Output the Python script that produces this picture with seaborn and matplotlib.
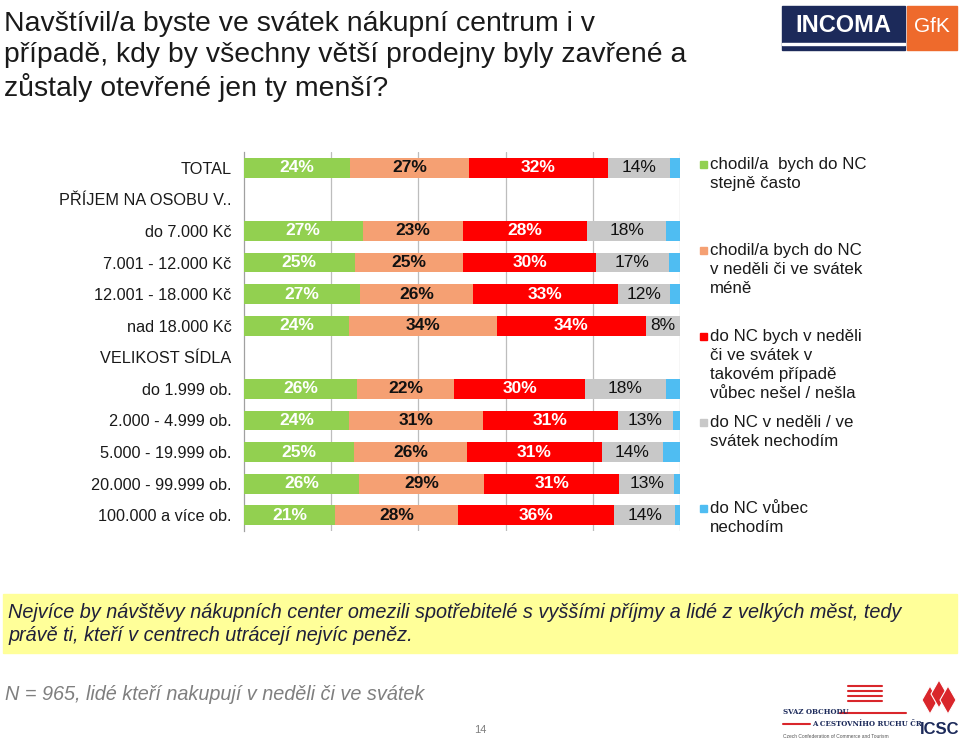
import numpy as np
import pandas as pd
import matplotlib
matplotlib.use("Agg")
import matplotlib.pyplot as plt
import seaborn as sns
from matplotlib.patches import Rectangle, Polygon
from matplotlib.lines import Line2D

# ---------------- data ----------------
categories = ["TOTAL", "PŘÍJEM NA OSOBU V..", "do 7.000 Kč", "7.001 - 12.000 Kč",
              "12.001 - 18.000 Kč", "nad 18.000 Kč", "VELIKOST SÍDLA", "do 1.999 ob.",
              "2.000 - 4.999 ob.", "5.000 - 19.999 ob.", "20.000 - 99.999 ob.",
              "100.000 a více ob."]
series_names = ["chodil/a  bych do NC\nstejně často",
                "chodil/a bych do NC\nv neděli či ve svátek\nméně",
                "do NC bych v neděli\nči ve svátek v\ntakovém případě\nvůbec nešel / nešla",
                "do NC v neděli / ve\nsvátek nechodím",
                "do NC vůbec\nnechodím"]
nan = np.nan
stejne_casto = [24.4, nan, 27.2, 25.4, 26.7, 24.1, nan, 26.0, 24.1, 25.3, 26.4, 20.9]
mene = [27.2, nan, 23.1, 24.9, 25.9, 33.9, nan, 22.1, 30.7, 25.8, 28.7, 28.2]
vubec_nesel = [31.9, nan, 28.4, 30.4, 33.1, 34.2, nan, 30.2, 31.0, 30.9, 31.0, 35.8]
nechodim_nedele = [14.3, nan, 18.1, 16.7, 11.9, 7.8, nan, 18.4, 12.6, 14.1, 12.6, 14.0]
nechodim_vubec = [2.2, nan, 3.2, 2.6, 2.4, 0.0, nan, 3.3, 1.6, 3.9, 1.3, 1.1]

colors = ["#92D050", "#F5A073", "#FF0000", "#C8C8C8", "#4FBDF2"]
label_colors = ["white", "#111111", "white", "#111111"]
label_weights = ["bold", "bold", "bold", "normal"]

series = [stejne_casto, mene, vubec_nesel, nechodim_nedele, nechodim_vubec]
df = pd.DataFrame({"cat": categories})
for i, s in enumerate(series):
    df[f"s{i}"] = s
df = df.dropna().reset_index(drop=True)
vals = df[[f"s{i}" for i in range(5)]].to_numpy()
cums = np.cumsum(vals, axis=1)
for i in range(5):
    df[f"c{i}"] = cums[:, i]

# ---------------- figure ----------------
sns.set_style("white")
plt.rcParams["font.family"] = ["Liberation Sans", "DejaVu Sans"]

W, H = 960, 744
fig = plt.figure(figsize=(W / 100, H / 100), dpi=100)
def fx(px): return px / W
def fy(py): return 1 - py / H

ax = fig.add_axes([fx(244), fy(531), fx(680) - fx(244), (531 - 152) / H])

for i in range(4, -1, -1):
    sns.barplot(data=df, x=f"c{i}", y="cat", order=categories, orient="h",
                color=colors[i], saturation=1, width=0.63, linewidth=0,
                errorbar=None, ax=ax, zorder=3)

# data labels
pos = {c: k for k, c in enumerate(categories)}
for _, row in df.iterrows():
    y = pos[row["cat"]]
    left = 0.0
    for i in range(5):
        v = row[f"s{i}"]
        if i < 4 and v > 0:
            ax.text(left + v / 2, y, f"{v:.0f}%", ha="center", va="center",
                    color=label_colors[i], fontweight=label_weights[i],
                    fontsize=12.5, zorder=5)
        left += v

ax.set_xlim(0, 100)
ax.set_ylim(len(categories) - 0.5, -0.5)
ax.set_xticks([20, 40, 60, 80, 100])
ax.set_xticklabels([])
ax.tick_params(axis="x", length=0)
ax.grid(axis="x", color="#BDBDBD", linewidth=0.9, zorder=0)
ax.set_axisbelow(True)
ax.set_xlabel("")
ax.set_ylabel("")
ax.set_yticks(range(len(categories)))
ax.set_yticklabels(categories, fontsize=11.7, color="#1a1a1a")
ax.set_yticks(np.arange(-0.5, len(categories), 1), minor=True)
ax.tick_params(axis="y", which="major", length=0, pad=9)
ax.tick_params(axis="y", which="minor", length=4, width=0.9, color="#A0A0A0",
               direction="out")
for sp in ["top", "right", "bottom"]:
    ax.spines[sp].set_visible(False)
ax.spines["left"].set_color("#A0A0A0")
ax.spines["left"].set_linewidth(0.9)

# ---------------- title ----------------
fig.text(fx(4), fy(11), "Navštívil/a byste ve svátek nákupní centrum i v\n"
         "případě, kdy by všechny větší prodejny byly zavřené a\n"
         "zůstaly otevřené jen ty menší?", ha="left", va="top",
         fontsize=20.4, linespacing=1.23, color="#1a1a1a")

# ---------------- legend ----------------
for i, name in enumerate(series_names):
    yc = 164 + 86 * i
    fig.patches.append(Rectangle((fx(700), fy(yc + 3.5)), 7 / W, 7 / H,
                                 transform=fig.transFigure, color=colors[i]))
    fig.text(fx(710), fy(yc - 7), name, ha="left", va="top", fontsize=12.2,
             linespacing=1.34, color="#1a1a1a")

# ---------------- conclusion box ----------------
fig.patches.append(Rectangle((fx(3), fy(653)), 954 / W, 59 / H,
                             transform=fig.transFigure, color="#FFFF99", zorder=0))
fig.text(fx(8), fy(603), "Nejvíce by návštěvy nákupních center omezili spotřebitelé s vyššími "
         "příjmy a lidé z velkých měst, tedy\nprávě ti, kteří v centrech utrácejí nejvíc peněz.",
         ha="left", va="top", fontsize=14.3, style="italic", linespacing=1.26,
         color="#1f1f3a")

fig.text(fx(5), fy(695), "N = 965, lidé kteří nakupují v neděli či ve svátek", ha="left",
         va="center", fontsize=14.3, style="italic", color="#7f7f7f")
fig.text(fx(480), fy(730), "14", ha="center", va="center", fontsize=8, color="#7f7f7f")

# ---------------- logos ----------------
fig.patches.append(Rectangle((fx(782), fy(50)), 123 / W, 44 / H,
                             transform=fig.transFigure, color="#1C2A5A"))
fig.patches.append(Rectangle((fx(782), fy(45)), 123 / W, 2 / H,
                             transform=fig.transFigure, color="white"))
fig.text(fx(843), fy(25), "INCOMA", ha="center", va="center", fontsize=17,
         fontweight="bold", color="white")
fig.patches.append(Rectangle((fx(907), fy(50)), 50 / W, 44 / H,
                             transform=fig.transFigure, color="#EE6A2C"))
fig.text(fx(932), fy(27), "GfK", ha="center", va="center", fontsize=15, color="white")

# SVAZ OBCHODU logo
for k in range(4):
    fig.lines.append(Line2D([fx(848), fx(882)], [fy(686 + 5 * k), fy(686 + 5 * k)],
                            transform=fig.transFigure, color="#D9262B", linewidth=1.5))
fig.text(fx(783), fy(712), "SVAZ OBCHODU", ha="left", va="center", fontsize=5,
         fontweight="bold", color="#1C2A5A", family="DejaVu Serif")
fig.lines.append(Line2D([fx(840), fx(906)], [fy(713), fy(713)],
                        transform=fig.transFigure, color="#D9262B", linewidth=1.5))
fig.lines.append(Line2D([fx(783), fx(810)], [fy(724), fy(724)],
                        transform=fig.transFigure, color="#D9262B", linewidth=1.5))
fig.text(fx(812), fy(724), "A CESTOVNÍHO RUCHU ČR", ha="left", va="center", fontsize=5,
         fontweight="bold", color="#1C2A5A", family="DejaVu Serif")
fig.text(fx(783), fy(736), "Czech Confederation of Commerce and Tourism", ha="left",
         va="center", fontsize=3.5, color="#555555")

# ICSC logo
for k in range(3):
    cx, cy = 930 + 9 * k, 700 - 6 * (k % 2)
    fig.patches.append(Polygon([(fx(cx), fy(cy - 14)), (fx(cx + 8), fy(cy)),
                                (fx(cx), fy(cy + 14)), (fx(cx - 8), fy(cy))],
                               closed=True, transform=fig.transFigure,
                               facecolor="#D9262B", edgecolor="white", linewidth=0.8))
fig.text(fx(940), fy(730), "ICSC", ha="center", va="center", fontsize=12,
         fontweight="bold", color="#1C2A5A")

fig.savefig("out.png", dpi=100)
